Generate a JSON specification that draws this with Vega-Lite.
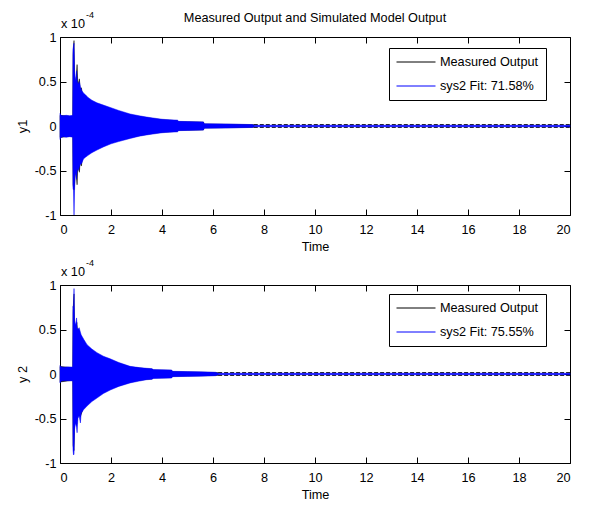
{
  "$schema": "https://vega.github.io/schema/vega-lite/v6.json",
  "padding": {"left": 15, "top": 10, "right": 8, "bottom": 2},
  "spacing": 4,
  "config": {
    "font": "Liberation Sans",
    "view": {"stroke": "#000000", "strokeWidth": 1},
    "axis": {
      "labelFontSize": 12.7,
      "labelColor": "#000000",
      "titleFontSize": 12.7,
      "titleFontWeight": "normal",
      "titleColor": "#000000",
      "tickColor": "#000000",
      "tickSize": -6,
      "domain": false,
      "grid": false
    },
    "title": {"fontSize": 12.7, "fontWeight": "normal", "color": "#000000"}
  },
  "datasets": {
    "y1": [
      {"series": "Measured Output", "t": 0, "hi": 0.12, "lo": -0.13},
      {"series": "Measured Output", "t": 0.5, "hi": 0.105, "lo": -0.11},
      {"series": "Measured Output", "t": 0.51, "hi": 0.8, "lo": -0.66},
      {"series": "Measured Output", "t": 0.55, "hi": 0.96, "lo": -0.72},
      {"series": "Measured Output", "t": 0.57, "hi": 0.56, "lo": -0.66},
      {"series": "Measured Output", "t": 0.62, "hi": 0.47, "lo": -0.47},
      {"series": "Measured Output", "t": 0.67, "hi": 0.69, "lo": -0.66},
      {"series": "Measured Output", "t": 0.7, "hi": 0.45, "lo": -0.42},
      {"series": "Measured Output", "t": 0.76, "hi": 0.53, "lo": -0.52},
      {"series": "Measured Output", "t": 0.79, "hi": 0.41, "lo": -0.4},
      {"series": "Measured Output", "t": 0.84, "hi": 0.43, "lo": -0.45},
      {"series": "Measured Output", "t": 0.88, "hi": 0.35, "lo": -0.35},
      {"series": "Measured Output", "t": 1.0, "hi": 0.32, "lo": -0.32},
      {"series": "Measured Output", "t": 1.25, "hi": 0.27, "lo": -0.28},
      {"series": "Measured Output", "t": 1.45, "hi": 0.24, "lo": -0.25},
      {"series": "Measured Output", "t": 2.0, "hi": 0.19, "lo": -0.185},
      {"series": "Measured Output", "t": 2.75, "hi": 0.125, "lo": -0.13},
      {"series": "Measured Output", "t": 3.4, "hi": 0.092, "lo": -0.092},
      {"series": "Measured Output", "t": 4.0, "hi": 0.07, "lo": -0.07},
      {"series": "Measured Output", "t": 4.6, "hi": 0.06, "lo": -0.06},
      {"series": "Measured Output", "t": 4.63, "hi": 0.048, "lo": -0.048},
      {"series": "Measured Output", "t": 5.62, "hi": 0.044, "lo": -0.044},
      {"series": "Measured Output", "t": 5.66, "hi": 0.022, "lo": -0.022},
      {"series": "Measured Output", "t": 7.6, "hi": 0.015, "lo": -0.015},
      {"series": "Measured Output", "t": 20, "hi": 0.015, "lo": -0.015},
      {"series": "sys2 Fit: 71.58%", "t": 0, "hi": 0.14, "lo": -0.15},
      {"series": "sys2 Fit: 71.58%", "t": 0.03, "hi": 0.12, "lo": -0.13},
      {"series": "sys2 Fit: 71.58%", "t": 0.12, "hi": 0.115, "lo": -0.12},
      {"series": "sys2 Fit: 71.58%", "t": 0.25, "hi": 0.12, "lo": -0.125},
      {"series": "sys2 Fit: 71.58%", "t": 0.38, "hi": 0.115, "lo": -0.12},
      {"series": "sys2 Fit: 71.58%", "t": 0.5, "hi": 0.12, "lo": -0.125},
      {"series": "sys2 Fit: 71.58%", "t": 0.51, "hi": 0.86, "lo": -0.7},
      {"series": "sys2 Fit: 71.58%", "t": 0.53, "hi": 0.9, "lo": -0.72},
      {"series": "sys2 Fit: 71.58%", "t": 0.55, "hi": 0.93, "lo": -1.0},
      {"series": "sys2 Fit: 71.58%", "t": 0.57, "hi": 0.62, "lo": -0.72},
      {"series": "sys2 Fit: 71.58%", "t": 0.59, "hi": 0.56, "lo": -0.56},
      {"series": "sys2 Fit: 71.58%", "t": 0.62, "hi": 0.5, "lo": -0.52},
      {"series": "sys2 Fit: 71.58%", "t": 0.65, "hi": 0.62, "lo": -0.6},
      {"series": "sys2 Fit: 71.58%", "t": 0.68, "hi": 0.5, "lo": -0.48},
      {"series": "sys2 Fit: 71.58%", "t": 0.72, "hi": 0.47, "lo": -0.5},
      {"series": "sys2 Fit: 71.58%", "t": 0.76, "hi": 0.5, "lo": -0.46},
      {"series": "sys2 Fit: 71.58%", "t": 0.8, "hi": 0.44, "lo": -0.43},
      {"series": "sys2 Fit: 71.58%", "t": 0.85, "hi": 0.4, "lo": -0.42},
      {"series": "sys2 Fit: 71.58%", "t": 0.92, "hi": 0.37, "lo": -0.37},
      {"series": "sys2 Fit: 71.58%", "t": 1.0, "hi": 0.35, "lo": -0.35},
      {"series": "sys2 Fit: 71.58%", "t": 1.1, "hi": 0.32, "lo": -0.33},
      {"series": "sys2 Fit: 71.58%", "t": 1.25, "hi": 0.29, "lo": -0.3},
      {"series": "sys2 Fit: 71.58%", "t": 1.45, "hi": 0.26, "lo": -0.27},
      {"series": "sys2 Fit: 71.58%", "t": 1.7, "hi": 0.235, "lo": -0.235},
      {"series": "sys2 Fit: 71.58%", "t": 2.0, "hi": 0.205, "lo": -0.2},
      {"series": "sys2 Fit: 71.58%", "t": 2.3, "hi": 0.175, "lo": -0.175},
      {"series": "sys2 Fit: 71.58%", "t": 2.75, "hi": 0.135, "lo": -0.14},
      {"series": "sys2 Fit: 71.58%", "t": 3.1, "hi": 0.115, "lo": -0.115},
      {"series": "sys2 Fit: 71.58%", "t": 3.4, "hi": 0.1, "lo": -0.1},
      {"series": "sys2 Fit: 71.58%", "t": 3.7, "hi": 0.088, "lo": -0.088},
      {"series": "sys2 Fit: 71.58%", "t": 4.0, "hi": 0.076, "lo": -0.076},
      {"series": "sys2 Fit: 71.58%", "t": 4.3, "hi": 0.07, "lo": -0.07},
      {"series": "sys2 Fit: 71.58%", "t": 4.62, "hi": 0.066, "lo": -0.066},
      {"series": "sys2 Fit: 71.58%", "t": 4.64, "hi": 0.052, "lo": -0.052},
      {"series": "sys2 Fit: 71.58%", "t": 5.0, "hi": 0.05, "lo": -0.05},
      {"series": "sys2 Fit: 71.58%", "t": 5.3, "hi": 0.048, "lo": -0.048},
      {"series": "sys2 Fit: 71.58%", "t": 5.63, "hi": 0.046, "lo": -0.046},
      {"series": "sys2 Fit: 71.58%", "t": 5.65, "hi": 0.026, "lo": -0.026},
      {"series": "sys2 Fit: 71.58%", "t": 6.5, "hi": 0.023, "lo": -0.023},
      {"series": "sys2 Fit: 71.58%", "t": 7.0, "hi": 0.02, "lo": -0.02},
      {"series": "sys2 Fit: 71.58%", "t": 7.55, "hi": 0.016, "lo": -0.016},
      {"series": "sys2 Fit: 71.58%", "t": 7.6, "hi": 0.008, "lo": -0.008},
      {"series": "sys2 Fit: 71.58%", "t": 20, "hi": 0.008, "lo": -0.008}
    ],
    "y2": [
      {"series": "Measured Output", "t": 0, "hi": 0.085, "lo": -0.09},
      {"series": "Measured Output", "t": 0.5, "hi": 0.07, "lo": -0.07},
      {"series": "Measured Output", "t": 0.51, "hi": 0.7, "lo": -0.8},
      {"series": "Measured Output", "t": 0.55, "hi": 0.9, "lo": -0.86},
      {"series": "Measured Output", "t": 0.57, "hi": 0.55, "lo": -0.58},
      {"series": "Measured Output", "t": 0.62, "hi": 0.5, "lo": -0.5},
      {"series": "Measured Output", "t": 0.66, "hi": 0.58, "lo": -0.56},
      {"series": "Measured Output", "t": 0.7, "hi": 0.45, "lo": -0.45},
      {"series": "Measured Output", "t": 0.8, "hi": 0.43, "lo": -0.48},
      {"series": "Measured Output", "t": 0.93, "hi": 0.36, "lo": -0.37},
      {"series": "Measured Output", "t": 1.06, "hi": 0.3, "lo": -0.33},
      {"series": "Measured Output", "t": 1.45, "hi": 0.22, "lo": -0.25},
      {"series": "Measured Output", "t": 1.97, "hi": 0.155, "lo": -0.165},
      {"series": "Measured Output", "t": 2.75, "hi": 0.078, "lo": -0.09},
      {"series": "Measured Output", "t": 3.4, "hi": 0.058, "lo": -0.058},
      {"series": "Measured Output", "t": 3.6, "hi": 0.055, "lo": -0.055},
      {"series": "Measured Output", "t": 3.66, "hi": 0.044, "lo": -0.044},
      {"series": "Measured Output", "t": 4.38, "hi": 0.04, "lo": -0.04},
      {"series": "Measured Output", "t": 4.42, "hi": 0.025, "lo": -0.025},
      {"series": "Measured Output", "t": 6.1, "hi": 0.017, "lo": -0.017},
      {"series": "Measured Output", "t": 6.2, "hi": 0.015, "lo": -0.015},
      {"series": "Measured Output", "t": 20, "hi": 0.015, "lo": -0.015},
      {"series": "sys2 Fit: 75.55%", "t": 0, "hi": 0.095, "lo": -0.1},
      {"series": "sys2 Fit: 75.55%", "t": 0.03, "hi": 0.08, "lo": -0.08},
      {"series": "sys2 Fit: 75.55%", "t": 0.15, "hi": 0.075, "lo": -0.075},
      {"series": "sys2 Fit: 75.55%", "t": 0.3, "hi": 0.08, "lo": -0.075},
      {"series": "sys2 Fit: 75.55%", "t": 0.5, "hi": 0.078, "lo": -0.078},
      {"series": "sys2 Fit: 75.55%", "t": 0.51, "hi": 0.76, "lo": -0.85},
      {"series": "sys2 Fit: 75.55%", "t": 0.53, "hi": 0.74, "lo": -0.91},
      {"series": "sys2 Fit: 75.55%", "t": 0.55, "hi": 0.96, "lo": -0.9},
      {"series": "sys2 Fit: 75.55%", "t": 0.57, "hi": 0.6, "lo": -0.62},
      {"series": "sys2 Fit: 75.55%", "t": 0.61, "hi": 0.55, "lo": -0.55},
      {"series": "sys2 Fit: 75.55%", "t": 0.65, "hi": 0.63, "lo": -0.6},
      {"series": "sys2 Fit: 75.55%", "t": 0.67, "hi": 0.52, "lo": -0.66},
      {"series": "sys2 Fit: 75.55%", "t": 0.7, "hi": 0.5, "lo": -0.5},
      {"series": "sys2 Fit: 75.55%", "t": 0.75, "hi": 0.52, "lo": -0.47},
      {"series": "sys2 Fit: 75.55%", "t": 0.8, "hi": 0.47, "lo": -0.55},
      {"series": "sys2 Fit: 75.55%", "t": 0.83, "hi": 0.44, "lo": -0.44},
      {"series": "sys2 Fit: 75.55%", "t": 0.93, "hi": 0.39, "lo": -0.4},
      {"series": "sys2 Fit: 75.55%", "t": 1.06, "hi": 0.33, "lo": -0.36},
      {"series": "sys2 Fit: 75.55%", "t": 1.25, "hi": 0.28, "lo": -0.31},
      {"series": "sys2 Fit: 75.55%", "t": 1.45, "hi": 0.24, "lo": -0.27},
      {"series": "sys2 Fit: 75.55%", "t": 1.7, "hi": 0.2, "lo": -0.22},
      {"series": "sys2 Fit: 75.55%", "t": 1.97, "hi": 0.17, "lo": -0.18},
      {"series": "sys2 Fit: 75.55%", "t": 2.3, "hi": 0.13, "lo": -0.14},
      {"series": "sys2 Fit: 75.55%", "t": 2.75, "hi": 0.086, "lo": -0.1},
      {"series": "sys2 Fit: 75.55%", "t": 3.1, "hi": 0.072, "lo": -0.08},
      {"series": "sys2 Fit: 75.55%", "t": 3.4, "hi": 0.064, "lo": -0.064},
      {"series": "sys2 Fit: 75.55%", "t": 3.62, "hi": 0.06, "lo": -0.06},
      {"series": "sys2 Fit: 75.55%", "t": 3.65, "hi": 0.05, "lo": -0.05},
      {"series": "sys2 Fit: 75.55%", "t": 4.0, "hi": 0.048, "lo": -0.048},
      {"series": "sys2 Fit: 75.55%", "t": 4.38, "hi": 0.045, "lo": -0.045},
      {"series": "sys2 Fit: 75.55%", "t": 4.41, "hi": 0.03, "lo": -0.03},
      {"series": "sys2 Fit: 75.55%", "t": 5.0, "hi": 0.027, "lo": -0.027},
      {"series": "sys2 Fit: 75.55%", "t": 5.5, "hi": 0.024, "lo": -0.024},
      {"series": "sys2 Fit: 75.55%", "t": 6.1, "hi": 0.019, "lo": -0.019},
      {"series": "sys2 Fit: 75.55%", "t": 6.2, "hi": 0.008, "lo": -0.008},
      {"series": "sys2 Fit: 75.55%", "t": 20, "hi": 0.008, "lo": -0.008}
    ]
  },
  "resolve": {"scale": {"fill": "independent", "stroke": "independent"}},
  "vconcat": [
    {
      "title": {"text": "Measured Output and Simulated Model Output", "offset": -14},
      "width": 510,
      "height": 178,
      "data": {"name": "y1"},
      "resolve": {"axis": {"x": "independent", "y": "independent"}},
      "layer": [
        {
          "transform": [{"filter": "datum.series === 'Measured Output' && datum.t <= 7.6"}],
          "mark": {"type": "area", "strokeWidth": 0.5},
          "encoding": {
            "x": {"field": "t", "type": "quantitative", "scale": {"domain": [0, 20], "nice": false},
              "axis": {"title": "Time", "values": [0, 2, 4, 6, 8, 10, 12, 14, 16, 18, 20], "labelPadding": 14, "titlePadding": 5}},
            "y": {"field": "hi", "type": "quantitative", "scale": {"domain": [-1, 1], "nice": false},
              "axis": {"title": "y1", "values": [-1, -0.5, 0, 0.5, 1], "labelExpr": "toString(datum.value)", "labelPadding": 10, "titlePadding": 5}},
            "y2": {"field": "lo"},
            "fill": {"field": "series", "type": "nominal", "scale": {"domain": ["Measured Output", "sys2 Fit: 71.58%"], "range": ["#000000", "#0000ff"]},
              "legend": {"orient": "none", "legendX": 329, "legendY": 11, "title": null, "symbolType": "stroke", "symbolSize": 1521, "symbolStrokeWidth": 1, "labelFontSize": 12.7, "labelColor": "#000000", "labelOffset": 4, "padding": 7, "rowPadding": 10, "fillColor": "#ffffff", "strokeColor": "#000000",
                "encode": {"symbols": {"update": {"y": {"value": 7}}}, "labels": {"update": {"y": {"value": 7}}}}}},
            "stroke": {"field": "series", "type": "nominal", "scale": {"domain": ["Measured Output", "sys2 Fit: 71.58%"], "range": ["#000000", "#0000ff"]},
              "legend": {"orient": "none", "legendX": 329, "legendY": 11, "title": null, "symbolType": "stroke", "symbolSize": 1521, "symbolStrokeWidth": 1, "labelFontSize": 12.7, "labelColor": "#000000", "labelOffset": 4, "padding": 7, "rowPadding": 10, "fillColor": "#ffffff", "strokeColor": "#000000",
                "encode": {"symbols": {"update": {"y": {"value": 7}}}, "labels": {"update": {"y": {"value": 7}}}}}}
          }
        },
        {
          "transform": [{"filter": "datum.series === 'Measured Output' && datum.t >= 7.6"}],
          "mark": {"type": "line", "strokeWidth": 1, "strokeDash": [4, 2]},
          "encoding": {
            "x": {"field": "t", "type": "quantitative", "axis": null},
            "y": {"field": "hi", "type": "quantitative", "axis": null},
            "stroke": {"field": "series", "type": "nominal"}
          }
        },
        {
          "transform": [{"filter": "datum.series === 'Measured Output' && datum.t >= 7.6"}],
          "mark": {"type": "line", "strokeWidth": 1, "strokeDash": [4, 2]},
          "encoding": {
            "x": {"field": "t", "type": "quantitative", "axis": null},
            "y": {"field": "lo", "type": "quantitative", "axis": null},
            "stroke": {"field": "series", "type": "nominal"}
          }
        },
        {
          "transform": [{"filter": "datum.series !== 'Measured Output'"}],
          "mark": {"type": "area", "strokeWidth": 0.5},
          "encoding": {
            "x": {"field": "t", "type": "quantitative",
              "axis": {"orient": "top", "labels": false, "title": null, "values": [0, 2, 4, 6, 8, 10, 12, 14, 16, 18, 20]}},
            "y": {"field": "hi", "type": "quantitative",
              "axis": {"orient": "right", "labels": false, "title": null, "values": [-1, -0.5, 0, 0.5, 1]}},
            "y2": {"field": "lo"},
            "fill": {"field": "series", "type": "nominal"},
            "stroke": {"field": "series", "type": "nominal"}
          }
        },
        {
          "data": {"values": [{"t": 0, "v": 1, "txt": "x 10"}]},
          "mark": {"type": "text", "align": "left", "baseline": "alphabetic", "dx": 1, "dy": -9, "fontSize": 12.7, "color": "#000000"},
          "encoding": {
            "x": {"field": "t", "type": "quantitative", "axis": null},
            "y": {"field": "v", "type": "quantitative", "axis": null},
            "text": {"field": "txt"}
          }
        },
        {
          "data": {"values": [{"t": 0, "v": 1, "txt": "-4"}]},
          "mark": {"type": "text", "align": "left", "baseline": "alphabetic", "dx": 26, "dy": -19, "fontSize": 9, "color": "#000000"},
          "encoding": {
            "x": {"field": "t", "type": "quantitative", "axis": null},
            "y": {"field": "v", "type": "quantitative", "axis": null},
            "text": {"field": "txt"}
          }
        }
      ]
    },
    {
      "width": 510,
      "height": 178,
      "data": {"name": "y2"},
      "resolve": {"axis": {"x": "independent", "y": "independent"}},
      "layer": [
        {
          "transform": [{"filter": "datum.series === 'Measured Output' && datum.t <= 6.2"}],
          "mark": {"type": "area", "strokeWidth": 0.5},
          "encoding": {
            "x": {"field": "t", "type": "quantitative", "scale": {"domain": [0, 20], "nice": false},
              "axis": {"title": "Time", "values": [0, 2, 4, 6, 8, 10, 12, 14, 16, 18, 20], "labelPadding": 14, "titlePadding": 5}},
            "y": {"field": "hi", "type": "quantitative", "scale": {"domain": [-1, 1], "nice": false},
              "axis": {"title": "y 2", "values": [-1, -0.5, 0, 0.5, 1], "labelExpr": "toString(datum.value)", "labelPadding": 10, "titlePadding": 5}},
            "y2": {"field": "lo"},
            "fill": {"field": "series", "type": "nominal", "scale": {"domain": ["Measured Output", "sys2 Fit: 75.55%"], "range": ["#000000", "#0000ff"]},
              "legend": {"orient": "none", "legendX": 329, "legendY": 9, "title": null, "symbolType": "stroke", "symbolSize": 1521, "symbolStrokeWidth": 1, "labelFontSize": 12.7, "labelColor": "#000000", "labelOffset": 4, "padding": 7, "rowPadding": 10, "fillColor": "#ffffff", "strokeColor": "#000000",
                "encode": {"symbols": {"update": {"y": {"value": 7}}}, "labels": {"update": {"y": {"value": 7}}}}}},
            "stroke": {"field": "series", "type": "nominal", "scale": {"domain": ["Measured Output", "sys2 Fit: 75.55%"], "range": ["#000000", "#0000ff"]},
              "legend": {"orient": "none", "legendX": 329, "legendY": 9, "title": null, "symbolType": "stroke", "symbolSize": 1521, "symbolStrokeWidth": 1, "labelFontSize": 12.7, "labelColor": "#000000", "labelOffset": 4, "padding": 7, "rowPadding": 10, "fillColor": "#ffffff", "strokeColor": "#000000",
                "encode": {"symbols": {"update": {"y": {"value": 7}}}, "labels": {"update": {"y": {"value": 7}}}}}}
          }
        },
        {
          "transform": [{"filter": "datum.series === 'Measured Output' && datum.t >= 6.2"}],
          "mark": {"type": "line", "strokeWidth": 1, "strokeDash": [4, 2]},
          "encoding": {
            "x": {"field": "t", "type": "quantitative", "axis": null},
            "y": {"field": "hi", "type": "quantitative", "axis": null},
            "stroke": {"field": "series", "type": "nominal"}
          }
        },
        {
          "transform": [{"filter": "datum.series === 'Measured Output' && datum.t >= 6.2"}],
          "mark": {"type": "line", "strokeWidth": 1, "strokeDash": [4, 2]},
          "encoding": {
            "x": {"field": "t", "type": "quantitative", "axis": null},
            "y": {"field": "lo", "type": "quantitative", "axis": null},
            "stroke": {"field": "series", "type": "nominal"}
          }
        },
        {
          "transform": [{"filter": "datum.series !== 'Measured Output'"}],
          "mark": {"type": "area", "strokeWidth": 0.5},
          "encoding": {
            "x": {"field": "t", "type": "quantitative",
              "axis": {"orient": "top", "labels": false, "title": null, "values": [0, 2, 4, 6, 8, 10, 12, 14, 16, 18, 20]}},
            "y": {"field": "hi", "type": "quantitative",
              "axis": {"orient": "right", "labels": false, "title": null, "values": [-1, -0.5, 0, 0.5, 1]}},
            "y2": {"field": "lo"},
            "fill": {"field": "series", "type": "nominal"},
            "stroke": {"field": "series", "type": "nominal"}
          }
        },
        {
          "data": {"values": [{"t": 0, "v": 1, "txt": "x 10"}]},
          "mark": {"type": "text", "align": "left", "baseline": "alphabetic", "dx": 1, "dy": -9, "fontSize": 12.7, "color": "#000000"},
          "encoding": {
            "x": {"field": "t", "type": "quantitative", "axis": null},
            "y": {"field": "v", "type": "quantitative", "axis": null},
            "text": {"field": "txt"}
          }
        },
        {
          "data": {"values": [{"t": 0, "v": 1, "txt": "-4"}]},
          "mark": {"type": "text", "align": "left", "baseline": "alphabetic", "dx": 26, "dy": -19, "fontSize": 9, "color": "#000000"},
          "encoding": {
            "x": {"field": "t", "type": "quantitative", "axis": null},
            "y": {"field": "v", "type": "quantitative", "axis": null},
            "text": {"field": "txt"}
          }
        }
      ]
    }
  ]
}
